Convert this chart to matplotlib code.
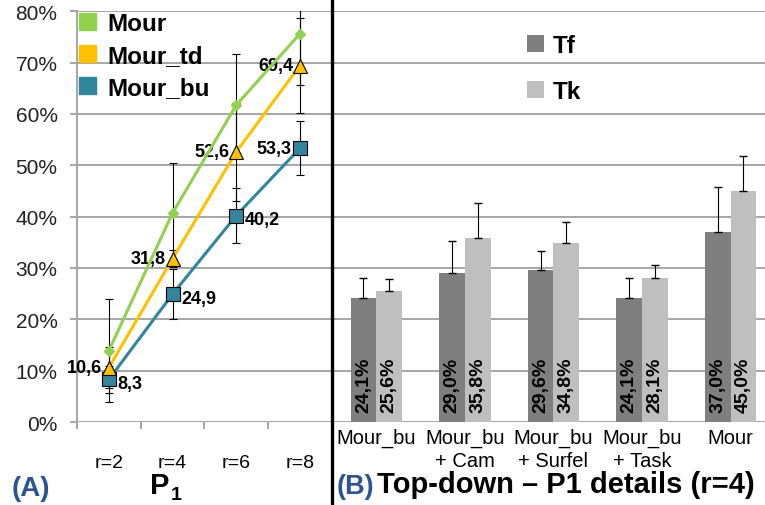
import numpy as np
import matplotlib.pyplot as plt
from matplotlib.lines import Line2D
from matplotlib.patches import Rectangle

plt.rcParams['font.family'] = ['Liberation Sans', 'DejaVu Sans']

# (A) recall for P1 against r
r_labels = ['r=2', 'r=4', 'r=6', 'r=8']
mour = [13.9, 40.7, 61.7, 75.6]
mour_err = [10.0, 9.8, 10.0, 10.0]
mour_td = [10.6, 31.8, 52.6, 69.4]
mour_td_err = [4.0, 1.6, 9.5, 9.3]
mour_bu = [8.3, 24.9, 40.2, 53.3]
mour_bu_err = [2.6, 4.9, 5.4, 5.3]

# (B) Tf / Tk for the P1 variants at r=4
groups = ['Mour_bu', 'Mour_bu\n+ Cam', 'Mour_bu\n+ Surfel', 'Mour_bu\n+ Task', 'Mour']
tf = [24.1, 29.0, 29.6, 24.1, 37.0]
tf_err = [4.0, 6.3, 3.7, 4.0, 8.7]
tk = [25.6, 35.8, 34.8, 28.1, 45.0]
tk_err = [2.3, 6.9, 4.2, 2.4, 6.7]

GREEN = '#92d050'
ORANGE = '#ffc000'
TEAL = '#31859c'
GRID = '#a6a6a6'
BLUE = '#2b5592'

fig = plt.figure(figsize=(7.65, 5.06), dpi=100)
axA = fig.add_axes([0.1007, 0.164, 0.333, 0.812])
axB = fig.add_axes([0.434, 0.164, 0.579, 0.812])

for ax in (axA, axB):
    ax.set_ylim(0, 80)
    ax.set_yticks(np.arange(0, 81, 10))
    ax.yaxis.grid(True, color=GRID, lw=1.4)
    ax.set_axisbelow(True)
    for s in ['top', 'right', 'bottom']:
        ax.spines[s].set_visible(False)

# ---- left panel
x = np.arange(len(r_labels))
axA.set_xlim(-0.5, 3.5)
axA.spines['left'].set_color(GRID)
axA.spines['left'].set_linewidth(1.4)
axA.set_yticklabels(['%d%%' % v for v in range(0, 81, 10)], fontsize=15, color='#222222')
axA.tick_params(axis='y', length=5, color=GRID, width=1.4, pad=9)

axA.set_xticks(np.arange(-0.5, 3.6, 1))
axA.set_xticklabels([])
axA.tick_params(axis='x', which='major', length=5, color=GRID, width=1.4)
axA.set_xticks(x, minor=True)
axA.set_xticklabels(r_labels, minor=True, fontsize=14)
axA.tick_params(axis='x', which='minor', length=0, pad=23)
axA.axhline(0, color=GRID, lw=1.4, zorder=1)

eb = dict(fmt='none', ecolor='black', elinewidth=0.8, capsize=3, capthick=0.8, zorder=3)
axA.errorbar(x, mour, yerr=mour_err, **eb)
axA.errorbar(x, mour_td, yerr=mour_td_err, **eb)
axA.errorbar(x, mour_bu, yerr=mour_bu_err, **eb)

axA.plot(x, mour, color=GREEN, lw=2.2, marker='D', ms=5.5, mec=GREEN, zorder=4)
axA.plot(x, mour_td, color=ORANGE, lw=2.2, marker='^', ms=10, mec='black', mew=0.8, zorder=5)
axA.plot(x, mour_bu, color=TEAL, lw=2.2, marker='s', ms=10, mec='black', mew=0.8, zorder=4)

lab = dict(fontsize=13, fontweight='bold', textcoords='offset points', va='center')
for xi, v in zip(x, mour_td):
    axA.annotate(('%.1f' % v).replace('.', ','), (xi, v), xytext=(-5, 0), ha='right', **lab)
for i, (xi, v) in enumerate(zip(x, mour_bu)):
    s = ('%.1f' % v).replace('.', ',')
    if i == 3:
        axA.annotate(s, (xi, v), xytext=(-6, 0), ha='right', **lab)
    else:
        axA.annotate(s, (xi, v), xytext=(6, -3), ha='left', **lab)

# legend for the lines
handles = [Rectangle((0, 0), 1, 1, color=c) for c in (GREEN, ORANGE, TEAL)]
axA.legend(handles, ['Mour', 'Mour_td', 'Mour_bu'], loc='upper left',
           bbox_to_anchor=(-0.077, 1.052), frameon=False,
           prop={'size': 17.5, 'weight': 'bold'}, handlelength=0.7, handleheight=0.7,
           handletextpad=0.45, labelspacing=0.38)

# ---- right panel
gx = np.arange(len(groups))
w = 0.29
axB.set_xlim(-0.5, 4.5)
axB.spines['left'].set_visible(False)
axB.tick_params(axis='y', length=0, labelleft=False)
axB.axhline(0, color=GRID, lw=1.4, zorder=1)
axB.bar(gx - w / 2, tf, w, color='#7f7f7f', label='Tf', zorder=2)
axB.bar(gx + w / 2, tk, w, color='#bfbfbf', label='Tk', zorder=2)
axB.errorbar(gx - w / 2, tf, yerr=[np.zeros(5), tf_err], fmt='none', ecolor='black',
             elinewidth=0.8, capsize=3, capthick=1, zorder=3)
axB.errorbar(gx + w / 2, tk, yerr=[np.zeros(5), tk_err], fmt='none', ecolor='black',
             elinewidth=0.8, capsize=3, capthick=1, zorder=3)
for xi, a, b in zip(gx, tf, tk):
    axB.text(xi - w / 2, 2, ('%.1f%%' % a).replace('.', ','), rotation=90, ha='center',
             va='bottom', fontsize=14, fontweight='bold', zorder=4)
    axB.text(xi + w / 2, 2, ('%.1f%%' % b).replace('.', ','), rotation=90, ha='center',
             va='bottom', fontsize=14, fontweight='bold', zorder=4)
axB.set_xticks(gx)
axB.set_xticklabels(groups, fontsize=14.5, linespacing=1.3, va='top')
axB.tick_params(axis='x', length=0, pad=4)
axB.legend(loc='upper left', bbox_to_anchor=(0.391, 0.998), frameon=False,
           prop={'size': 17.5, 'weight': 'bold'}, handlelength=0.7, handleheight=0.7,
           handletextpad=0.35, labelspacing=0.95)

# panel captions
fig.text(12 / 765, 1 - 496 / 506, '(A)', color=BLUE, fontsize=20, fontweight='bold',
         va='baseline')
fig.text(150 / 765, 1 - 494 / 506, 'P', fontsize=21, fontweight='bold', va='baseline')
fig.text(171 / 765, 1 - 500 / 506, '1', fontsize=14, fontweight='bold', va='baseline')
fig.text(337 / 765, 1 - 494 / 506, '(B)', color=BLUE, fontsize=19.5, fontweight='bold',
         va='baseline')
fig.text(377 / 765, 1 - 493 / 506, 'Top-down \u2013 P1 details (r=4)', fontsize=21,
         fontweight='bold', va='baseline')

# separator between panels
fig.add_artist(Line2D([0.4345, 0.4345], [0, 1], color='black', lw=2.4))

fig.savefig('out.png', dpi=100)
